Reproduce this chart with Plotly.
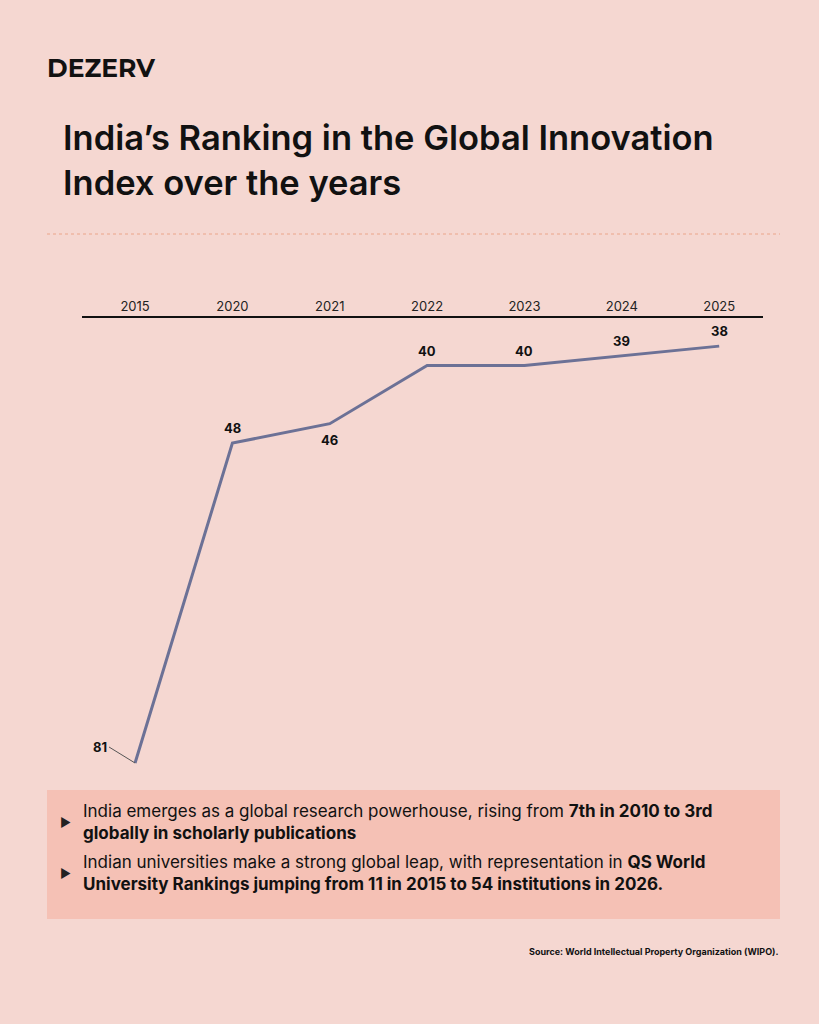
import plotly.graph_objects as go

years = ["2015", "2020", "2021", "2022", "2023", "2024", "2025"]
ranks = [81, 48, 46, 40, 40, 39, 38]
label_pos = ["left", "above", "below", "above", "above", "above", "above"]

W, H = 819, 1024
def px(x): return x / W
def py(y): return 1 - y / H

fig = go.Figure()
fig.add_trace(go.Scatter(x=years, y=ranks, mode="lines",
                         line=dict(color="#6c7196", width=3), hoverinfo="skip"))

for i, (r, pos) in enumerate(zip(ranks, label_pos)):
    if pos == "left":
        fig.add_annotation(x=i, y=r, text="<b>%d</b>" % r, showarrow=True, arrowhead=0,
                           arrowwidth=1, arrowcolor="#555", ax=-26, ay=-16, xanchor="right",
                           font=dict(size=13, color="#111", family="Inter"))
    else:
        fig.add_annotation(x=i, y=r, text="<b>%d</b>" % r, showarrow=False,
                           yshift=15 if pos == "above" else -16,
                           font=dict(size=13, color="#111", family="Inter"))

fig.update_layout(
    width=W, height=H, margin=dict(l=0, r=0, t=0, b=0),
    paper_bgcolor="#f5d7d1", plot_bgcolor="rgba(0,0,0,0)", showlegend=False,
    font=dict(family="Inter", color="#111"),
    xaxis=dict(type="category", domain=[px(82), px(763)], range=[-0.545, 6.45],
               side="top", showgrid=False, showline=True, linecolor="#111", linewidth=1.5,
               ticks="", tickfont=dict(size=13, color="#222"), anchor="y", zeroline=False),
    yaxis=dict(domain=[py(780), py(318)], range=[82.75, 35.1], visible=False),
)

fig.add_annotation(x=px(45), y=py(68), xref="paper", yref="paper", xanchor="left", yanchor="middle",
                   text="<b>DEZERV</b>", showarrow=False,
                   font=dict(size=25, family="Montserrat, Inter", color="#111", weight=900))
fig.add_annotation(x=px(61), y=py(160), xref="paper", yref="paper", xanchor="left", yanchor="middle",
                   text="India’s Ranking in the Global Innovation<br>Index over the years", showarrow=False,
                   align="left", font=dict(size=34.5, family="Inter", color="#111", weight=600))
fig.add_shape(type="line", xref="paper", yref="paper", x0=px(47), x1=px(780), y0=py(234), y1=py(234),
              line=dict(color="#eba58a", width=1, dash="dot"))
fig.add_shape(type="rect", xref="paper", yref="paper", x0=px(47), x1=px(780), y0=py(790), y1=py(919),
              fillcolor="#f5c1b5", line=dict(width=0), layer="below")
bullets = [
    (py(822), "India emerges as a global research powerhouse, rising from <b>7th in 2010 to 3rd</b><br><b>globally in scholarly publications</b>"),
    (py(873), "Indian universities make a strong global leap, with representation in <b>QS World</b><br><b>University Rankings jumping from 11 in 2015 to 54 institutions in 2026.</b>"),
]
for yv, t in bullets:
    fig.add_annotation(x=px(58), y=yv, xref="paper", yref="paper", xanchor="left", yanchor="middle",
                       text="▶", showarrow=False, font=dict(size=12, color="#222"))
    fig.add_annotation(x=px(81), y=yv, xref="paper", yref="paper", xanchor="left", yanchor="middle",
                       text=t, showarrow=False, align="left",
                       font=dict(size=17, family="Inter", color="#111"))
fig.add_annotation(x=px(780), y=py(951), xref="paper", yref="paper", xanchor="right", yanchor="middle",
                   text="<b>Source: World Intellectual Property Organization (WIPO).</b>", showarrow=False,
                   font=dict(size=9, family="Inter", color="#111"))

fig.write_html("out.html", config={"displayModeBar": False},
               post_script="document.body.style.margin='0';document.body.style.overflow='hidden';")
